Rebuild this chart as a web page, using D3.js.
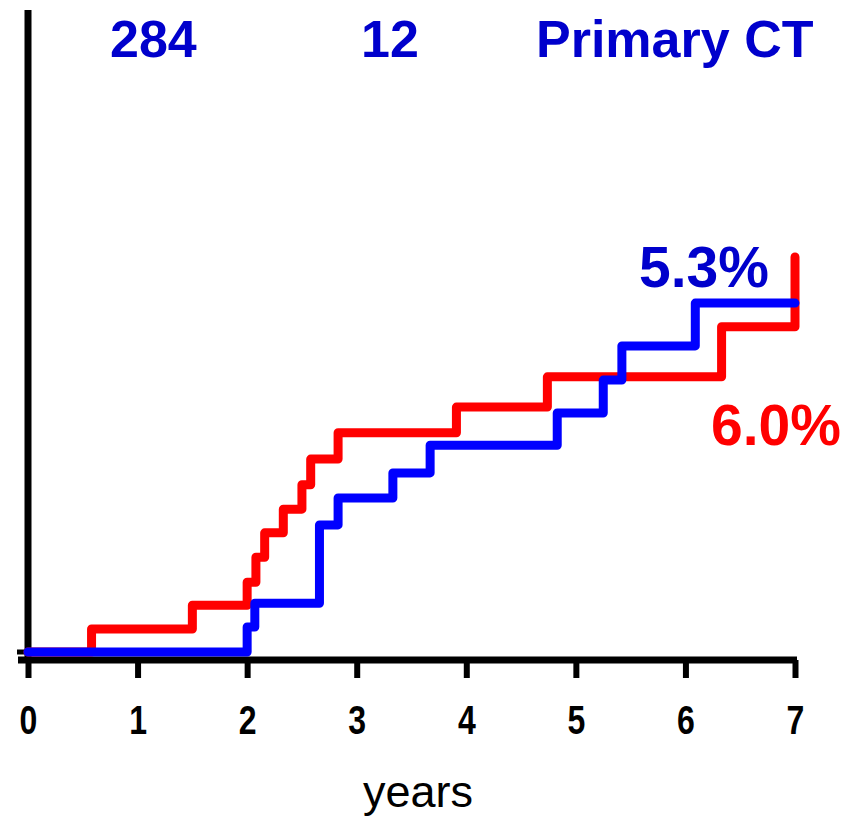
<html>
<head>
<title>Primary CT</title>
<script src="https://cdn.jsdelivr.net/npm/d3@7"></script>
<style>
body { margin: 0; background: #fff; }
</style>
</head>
<body>
<svg width="843" height="818"></svg>
<script>

// step curves, cumulative incidence in %
var redTimes  = [0, 0.58, 1.50, 2.00, 2.08, 2.16, 2.33, 2.50, 2.58, 2.83, 3.91, 4.74, 6.33, 7.00],
    redValues = [0, 0.35, 0.71, 1.06, 1.44, 1.81, 2.17, 2.54, 2.93, 3.33, 3.72, 4.18, 4.94, 6.00];

var blueTimes  = [0, 2.00, 2.07, 2.66, 2.83, 3.33, 3.67, 4.83, 5.25, 5.42, 6.09, 7.00],
    blueValues = [0, 0.38, 0.74, 1.93, 2.34, 2.72, 3.14, 3.63, 4.13, 4.65, 5.30, 5.30];

var xTicks = [0, 1, 2, 3, 4, 5, 6, 7];
var headerLabels = ["284", "12", "Primary CT"];
var endLabels = ["5.3%", "6.0%"];
var xTitle = "years";

var svg = d3.select("svg");

var x = d3.scaleLinear()
    .domain([0, 7])
    .range([28, 795]);

var y = d3.scaleLinear()
    .domain([0, 6])
    .range([652, 257]);

var line = d3.line()
    .x(function(d) { return x(d[0]); })
    .y(function(d) { return y(d[1]); })
    .curve(d3.curveStepAfter);

// y axis line
svg.append("line")
    .attr("x1", x(0)).attr("x2", x(0))
    .attr("y1", 10).attr("y2", 663)
    .attr("stroke", "#000")
    .attr("stroke-width", 7);

// zero tick on y axis
svg.append("line")
    .attr("x1", x(0) - 11).attr("x2", x(0))
    .attr("y1", y(0)).attr("y2", y(0))
    .attr("stroke", "#000")
    .attr("stroke-width", 5);

// x axis
var xAxis = svg.append("g")
    .attr("transform", "translate(0,660)")
    .call(d3.axisBottom(x)
        .tickValues(xTicks)
        .tickFormat(d3.format("d"))
        .tickSize(18)
        .tickSizeOuter(0)
        .tickPadding(28));

xAxis.select(".domain").remove();
xAxis.selectAll(".tick line")
    .attr("stroke", "#000")
    .attr("stroke-width", 6);
xAxis.selectAll(".tick text")
    .attr("fill", "#000")
    .attr("transform", "scale(0.8,1)")
    .style("font-family", "'Liberation Sans', Arial, sans-serif")
    .style("font-weight", "bold")
    .style("font-size", "40px");

svg.append("line")
    .attr("x1", x(0) - 10).attr("x2", x(7) + 2)
    .attr("y1", 660).attr("y2", 660)
    .attr("stroke", "#000")
    .attr("stroke-width", 7);

// curves
var red = d3.zip(redTimes, redValues),
    blue = d3.zip(blueTimes, blueValues);

svg.append("path")
    .datum(red)
    .attr("d", line)
    .attr("fill", "none")
    .attr("stroke", "#ff0000")
    .attr("stroke-width", 9)
    .attr("stroke-linecap", "round")
    .attr("stroke-linejoin", "round");

svg.append("path")
    .datum(blue)
    .attr("d", line)
    .attr("fill", "none")
    .attr("stroke", "#0000ff")
    .attr("stroke-width", 9)
    .attr("stroke-linecap", "round")
    .attr("stroke-linejoin", "round");

// header numbers
var headerX = [110, 361, 536];
svg.selectAll(".header")
    .data(headerLabels)
  .enter().append("text")
    .attr("class", "header")
    .attr("x", function(d, i) { return headerX[i]; })
    .attr("y", 57)
    .attr("fill", "#0000cc")
    .style("font-family", "'Liberation Sans', Arial, sans-serif")
    .style("font-weight", "bold")
    .style("font-size", "52px")
    .text(function(d) { return d; });

// end labels
svg.append("text")
    .attr("x", 769)
    .attr("y", 287)
    .attr("text-anchor", "end")
    .attr("fill", "#0000cc")
    .style("font-family", "'Liberation Sans', Arial, sans-serif")
    .style("font-weight", "bold")
    .style("font-size", "57px")
    .text(endLabels[0]);

svg.append("text")
    .attr("x", 841)
    .attr("y", 445)
    .attr("text-anchor", "end")
    .attr("fill", "#ff0000")
    .style("font-family", "'Liberation Sans', Arial, sans-serif")
    .style("font-weight", "bold")
    .style("font-size", "57px")
    .text(endLabels[1]);

svg.append("text")
    .attr("x", 418)
    .attr("y", 807)
    .attr("text-anchor", "middle")
    .attr("fill", "#000")
    .style("font-family", "'Liberation Sans', Arial, sans-serif")
    .style("font-size", "45px")
    .text(xTitle);

</script>
</body>
</html>
